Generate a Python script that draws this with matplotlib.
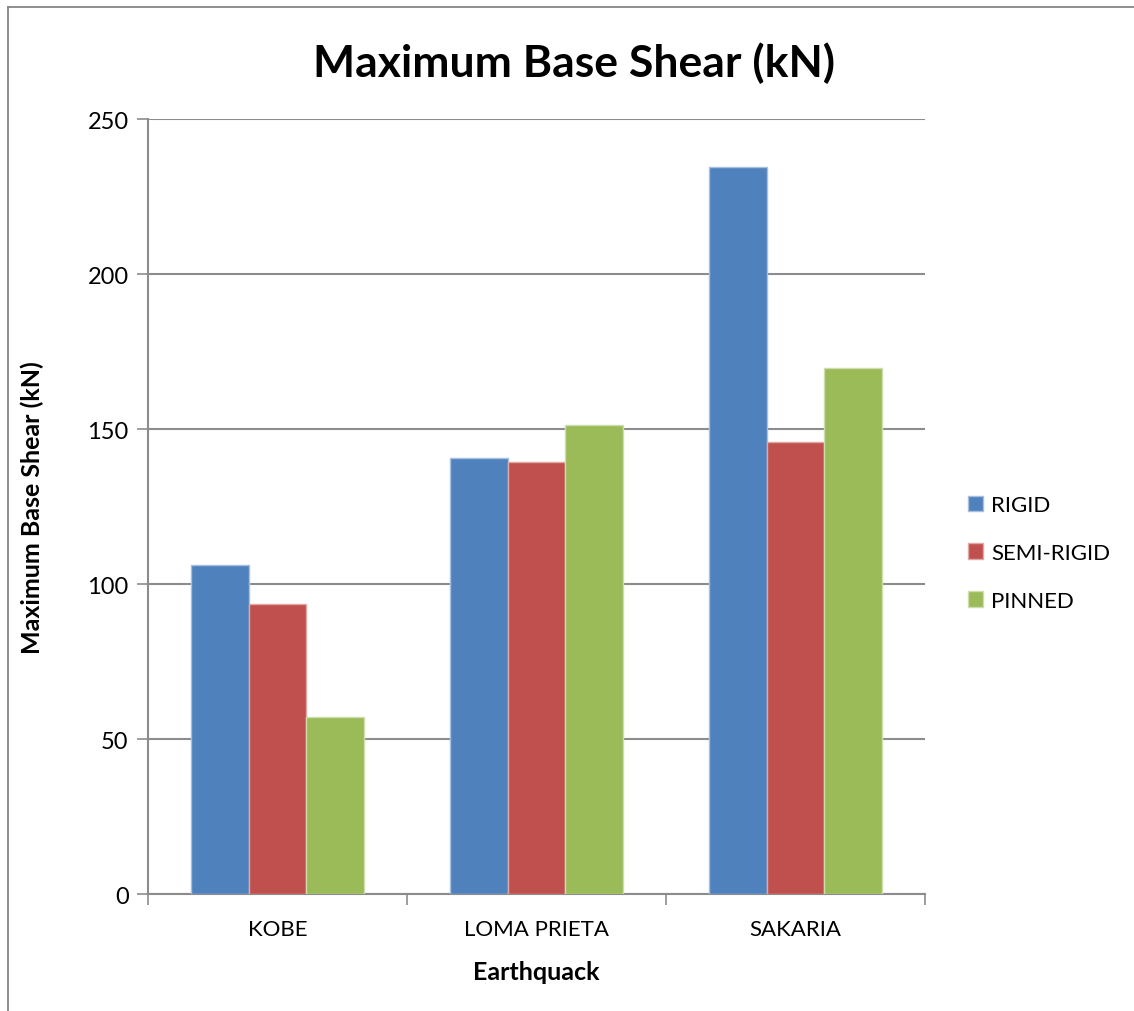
import matplotlib.pyplot as plt
import numpy as np
from matplotlib.lines import Line2D

plt.rcParams['font.family'] = ['Lato', 'DejaVu Sans']

quakes = ['KOBE', 'LOMA PRIETA', 'SAKARIA']
rigid = [106.1, 140.5, 234.4]
semi_rigid = [93.6, 139.5, 145.8]
pinned = [57.2, 151.2, 169.7]
series = ['RIGID', 'SEMI-RIGID', 'PINNED']
colors = ['#4F81BD', '#C0504D', '#9BBB59']
edges = ['#A7C0DE', '#DFA8A6', '#CDDDAC']

fig = plt.figure(figsize=(11.34, 10.12), dpi=100)
ax = fig.add_axes([0.1305, 0.1156, 0.6852, 0.7658])

x = np.arange(len(quakes))
w = 0.222
for i, (vals, name) in enumerate(zip([rigid, semi_rigid, pinned], series)):
    ax.bar(x + (i - 1) * w, vals, w, color=colors[i], edgecolor=edges[i],
           linewidth=1, label=name, zorder=3)

ax.set_ylim(0, 250)
ax.set_xlim(-0.5, 2.5)
ax.set_yticks(range(0, 251, 50))
ax.yaxis.grid(True, color='#8C8C8C', linewidth=1.5, zorder=0)
ax.tick_params(axis='y', length=8, width=1.2, color='#8C8C8C', labelsize=17, pad=6)

ax.set_xticks(x)
ax.set_xticklabels(quakes, fontsize=16)
ax.set_xticks(np.arange(-0.5, 2.6, 1), minor=True)
ax.tick_params(axis='x', which='major', length=0, pad=18)
ax.tick_params(axis='x', which='minor', length=8, width=1.2, color='#8C8C8C')

for s in ['top', 'right']:
    ax.spines[s].set_visible(False)
for s in ['left', 'bottom']:
    ax.spines[s].set_color('#8C8C8C')
    ax.spines[s].set_linewidth(1.5)

ax.set_xlabel('Earthquack', fontsize=18, fontweight='bold')
ax.set_ylabel('Maximum Base Shear (kN)', fontsize=18, fontweight='bold')
ax.xaxis.set_label_coords(0.5, -0.085)
ax.yaxis.set_label_coords(-0.134, 0.5)
fig.text(0.506, 0.938, 'Maximum Base Shear (kN)', fontsize=32, fontweight='bold',
         ha='center', va='center')

leg = ax.legend(loc='center left', bbox_to_anchor=(1.055, 0.44), frameon=False,
                fontsize=16, handlelength=0.7, handleheight=0.7,
                handletextpad=0.35, labelspacing=1.25, borderpad=0,
                borderaxespad=0)

# outer chart frame, cut off at right and bottom
fx, fy = 8 / 1134, 1 - 8 / 1012
fig.add_artist(Line2D([fx, 1.0], [fy, fy], transform=fig.transFigure,
                      color='#868686', linewidth=1.3))
fig.add_artist(Line2D([fx, fx], [0.0, fy], transform=fig.transFigure,
                      color='#868686', linewidth=1.3))

fig.savefig('out.png', dpi=100)
